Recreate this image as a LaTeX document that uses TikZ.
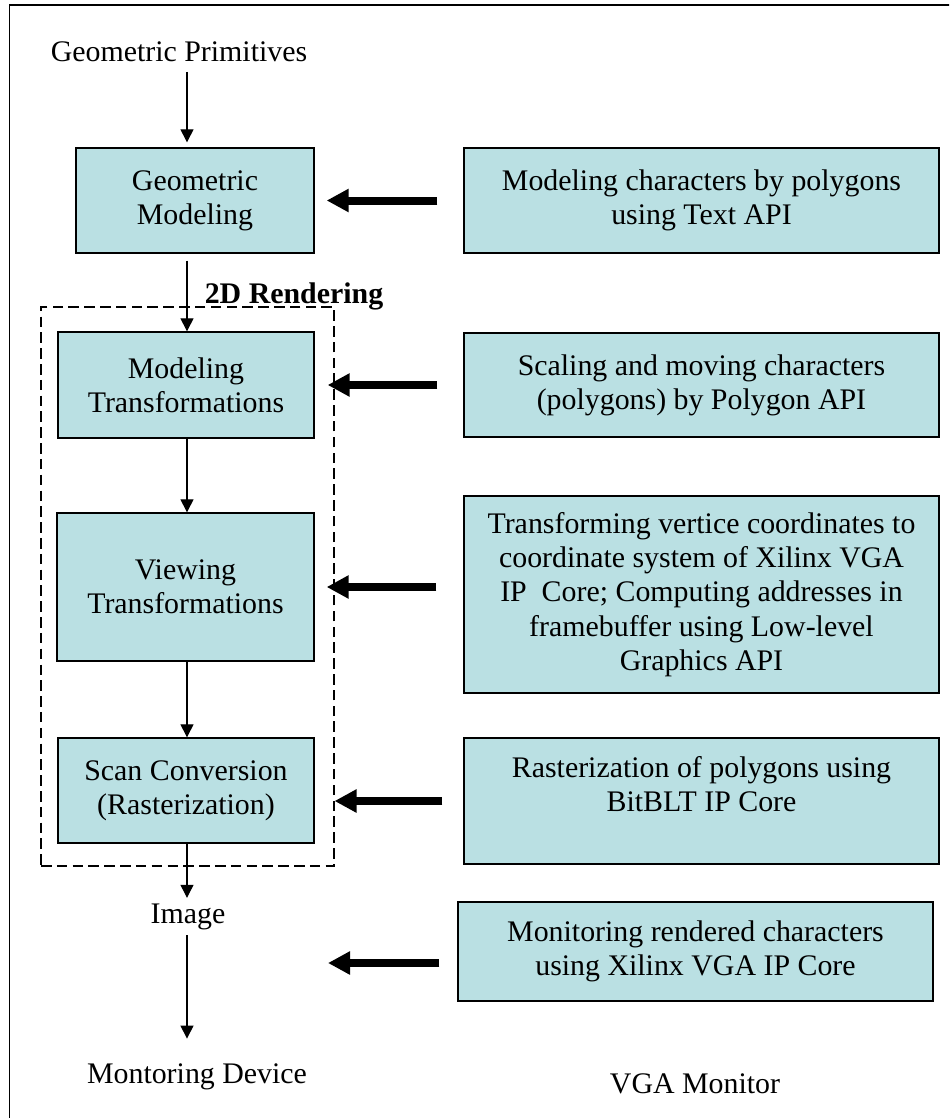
\documentclass[tikz,border=0pt]{standalone}
\usepackage{fontspec}
\setmainfont{Liberation Serif}
\usetikzlibrary{arrows.meta,positioning,calc}
\definecolor{stageblue}{RGB}{186,224,227}
\tikzset{
  stage/.style = {rectangle, draw=black, fill=stageblue, line width=0.75pt, inner sep=0pt, align=center},
  caption/.style = {anchor=base, inner sep=3pt},
  group/.style = {rectangle, draw=black, line width=0.6pt, dash pattern=on 6pt off 3pt, inner sep=0pt},
  flow/.style = {-{Triangle[length=0.26cm,width=0.26cm]}, line width=0.6pt},
  apiarrow/.style = {-{Triangle[length=0.44cm,width=0.44cm]}, line width=0.16cm},
}

\begin{document}
\begin{tikzpicture}[font=\fontsize{17}{19.5}\selectfont]
  \useasboundingbox (0,0) rectangle (18.98,-22.36);
  \clip (0,0) rectangle (18.98,-22.36);
  % frame, its right and bottom sides run off the page
  \draw[line width=0.75pt] (0.19,-0.1) rectangle (19.5,-23);

  % rendering pipeline
  \coordinate (col) at (3.74,0);
  \node[caption] (prim) at (3.58,-1.22) {Geometric Primitives};
  \node[stage, minimum width=4.76cm, minimum height=2.1cm] (gm) at (3.9,-4.01) {Geometric\\Modeling};
  \node[group, minimum width=5.86cm, minimum height=11.18cm] (grp) at (3.75,-11.73) {};
  \node[caption, font=\fontsize{17}{19.5}\selectfont\bfseries] (rd) at (5.88,-6.06) {2D Rendering};
  \node[stage, minimum width=5.12cm, minimum height=2.12cm] (mt) at (3.72,-7.7) {Modeling\\Transformations};
  \node[stage, minimum width=5.14cm, minimum height=2.96cm] (vt) at (3.71,-11.74) {Viewing\\Transformations};
  \node[stage, minimum width=5.12cm, minimum height=2.1cm] (sc) at (3.72,-15.81) {Scan Conversion\\(Rasterization)};
  \node[caption] (img) at (3.76,-18.46) {Image};
  \node[caption] (mon) at (3.94,-21.66) {Montoring Device};

  \draw[flow, shorten <=0.1cm, shorten >=0.1cm] (prim.south -| col) -- (gm.north -| col);
  \draw[flow, shorten <=0.14cm] (gm.south -| col) -- (mt.north -| col);
  \draw[flow] (mt.south -| col) -- (vt.north -| col);
  \draw[flow] (vt.south -| col) -- (sc.north -| col);
  \draw[flow] (sc.south -| col) -- (img.north -| col);
  \draw[flow, shorten >=0.38cm] (img.south -| col) -- (mon.north -| col);

  % implementation side
  \node[stage, minimum width=9.5cm, minimum height=2.1cm] (api1) at (14.03,-4.01)
    {Modeling characters by polygons\\using Text API};
  \node[stage, minimum width=9.5cm, minimum height=2.08cm] (api2) at (14.03,-7.7)
    {Scaling and moving characters\\(polygons) by Polygon API};
  \node[stage, minimum width=9.5cm, minimum height=3.94cm] (api3) at (14.03,-11.89)
    {Transforming vertice coordinates to\\coordinate system of Xilinx VGA\\IP\ \ Core; Computing addresses in\\framebuffer using Low-level\\Graphics API};
  \node[stage, minimum width=9.5cm, minimum height=2.52cm] (api4) at (14.03,-16.02)
    {Rasterization of polygons using\\BitBLT IP Core\\\mbox{}};
  \node[stage, minimum width=9.5cm, minimum height=1.98cm] (api5) at (13.91,-19.03)
    {Monitoring rendered characters\\using Xilinx VGA IP Core};
  \node[caption] (vga) at (13.9,-21.86) {VGA Monitor};

  \coordinate (montip) at (6.56,-19.26);
  \draw[apiarrow] ([xshift=-0.52cm]api1.west) -- ([xshift=0.24cm]gm.east);
  \draw[apiarrow] ($(mt.east -| api2.west)+(-0.52,0)$) -- ([xshift=0.26cm]mt.east);
  \draw[apiarrow] ($(vt.east -| api3.west)+(-0.54,0)$) -- ([xshift=0.24cm]vt.east);
  \draw[apiarrow] ([xshift=-0.42cm]api4.west) -- (api4.west -| grp.east);
  \draw[apiarrow] ($(montip -| api5.west)+(-0.36,0)$) -- (montip);
\end{tikzpicture}
\end{document}
